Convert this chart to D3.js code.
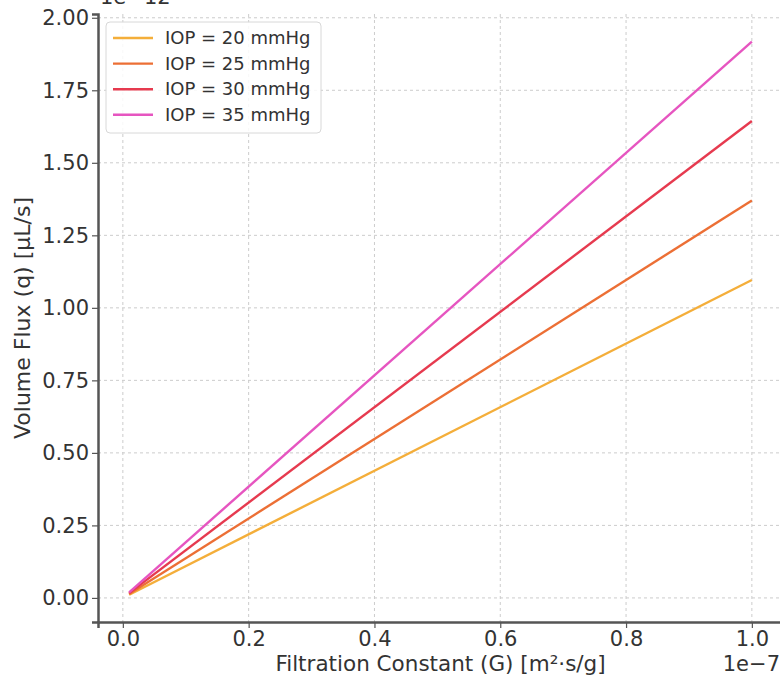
<!DOCTYPE html>
<html><head><meta charset="utf-8">
<script src="https://cdn.jsdelivr.net/npm/d3@7/dist/d3.min.js"></script>
<style>
body{margin:0;background:#fff;}
svg{display:block;font-family:"DejaVu Sans",sans-serif;}
</style></head>
<body>
<script>
const gValues = [0.01, 1.0];
const seriesNames = ["IOP = 20 mmHg","IOP = 25 mmHg","IOP = 30 mmHg","IOP = 35 mmHg"];
const q20 = [0.011, 1.096];
const q25 = [0.0137, 1.370];
const q30 = [0.0164, 1.644];
const q35 = [0.0192, 1.918];
const seriesValues = [q20, q25, q30, q35];
const colors = ["#f4ae3a","#ec6f35","#e63a4f","#e655c0"];
const xTicks = [0.0,0.2,0.4,0.6,0.8,1.0];
const yTicks = [0.00,0.25,0.50,0.75,1.00,1.25,1.50,1.75,2.00];

const W=780,H=680;
const svg=d3.select("body").append("svg").attr("width",W).attr("height",H);
const pL=98,pR=783,pT=14,pB=622;
const x=d3.scaleLinear().domain([-0.0395,1.0495]).range([pL,pR]);
const y=d3.scaleLinear().domain([-0.083,2.013]).range([pB,pT]);

// grid
const grid=svg.append("g");
grid.selectAll("line.gx").data(xTicks).enter().append("line")
 .attr("x1",d=>x(d)).attr("x2",d=>x(d)).attr("y1",pT).attr("y2",pB)
 .attr("stroke","#cccccc").attr("stroke-width",1).attr("stroke-dasharray","3,3");
grid.selectAll("line.gy").data(yTicks).enter().append("line")
 .attr("x1",pL).attr("x2",pR).attr("y1",d=>y(d)).attr("y2",d=>y(d))
 .attr("stroke","#cccccc").attr("stroke-width",1).attr("stroke-dasharray","3,3");

// lines
const line=d3.line().x((d,i)=>x(gValues[i])).y(d=>y(d));
seriesValues.forEach((s,i)=>{
  svg.append("path").datum(s).attr("d",line).attr("fill","none")
   .attr("stroke",colors[i]).attr("stroke-width",2.4);
});

// axes
const xAxis=svg.append("g").attr("transform",`translate(0,${pB})`)
 .call(d3.axisBottom(x).tickValues(xTicks).tickFormat(d3.format(".1f")).tickSizeOuter(0).tickSize(6).tickPadding(3));
const yAxis=svg.append("g").attr("transform",`translate(${pL},0)`)
 .call(d3.axisLeft(y).tickValues(yTicks).tickFormat(d3.format(".2f")).tickSizeOuter(0).tickSize(6).tickPadding(3));
[xAxis,yAxis].forEach(a=>{
  a.select(".domain").attr("stroke","#555").attr("stroke-width",2.5);
  a.selectAll(".tick line").attr("stroke","#555").attr("stroke-width",1.2);
  a.selectAll(".tick text").attr("fill","#333").attr("font-size",21).attr("font-family","DejaVu Sans, sans-serif");
});

// labels
svg.append("text").attr("x",(pL+pR)/2).attr("y",671).attr("text-anchor","middle")
 .attr("font-size",21.5).attr("fill","#333").text("Filtration Constant (G) [m²·s/g]");
svg.append("text").attr("x",780).attr("y",671).attr("text-anchor","end")
 .attr("font-size",21).attr("fill","#333").text("1e−7");
svg.append("text").attr("transform",`translate(30,${(pT+pB)/2}) rotate(-90)`).attr("text-anchor","middle")
 .attr("font-size",22).attr("fill","#333").text("Volume Flux (q) [µL/s]");
svg.append("text").attr("x",100).attr("y",4).attr("font-size",21).attr("fill","#333").text("1e−12");

// legend
const lg=svg.append("g");
lg.append("rect").attr("x",106).attr("y",22).attr("width",215).attr("height",111).attr("rx",4)
 .attr("fill","#fff").attr("fill-opacity",0.85).attr("stroke","#d8d8d8").attr("stroke-width",1);
seriesNames.forEach((n,i)=>{
  const yy=38+i*25.6;
  lg.append("line").attr("x1",113).attr("x2",153).attr("y1",yy).attr("y2",yy)
   .attr("stroke",colors[i]).attr("stroke-width",2.4);
  lg.append("text").attr("x",165).attr("y",yy+6).attr("font-size",18).attr("fill","#333").text(n);
});
</script>
</body></html>
